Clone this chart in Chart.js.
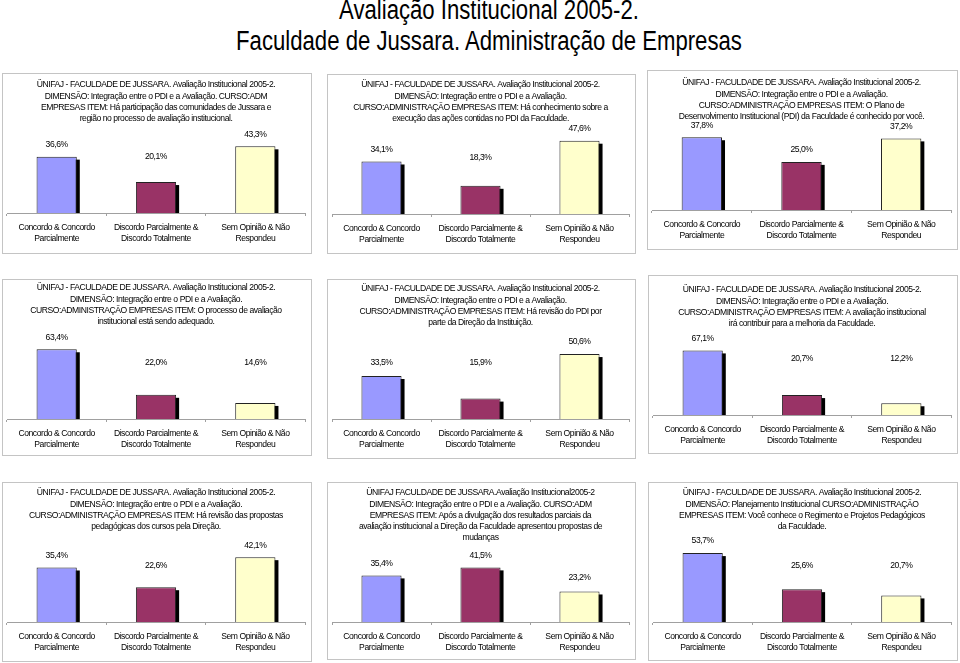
<!DOCTYPE html>
<html>
<head>
<meta charset="utf-8">
<script src="https://cdn.jsdelivr.net/npm/chart.js@4.4.1/dist/chart.umd.min.js"></script>
<style>
    html, body { margin: 0; padding: 0; background: #fff; }
    body {
        width: 960px; height: 663px; position: relative; overflow: hidden;
        font-family: "Liberation Sans", Arial, sans-serif;
    }
    #title {
        position: absolute; left: 9px; top: -5px; width: 960px;
        text-align: center; font-size: 27px; line-height: 31px; color: #000;
        transform: scaleX(0.82); transform-origin: 480px 0;
    }
    .panel { position: absolute; border: 1px solid #c4c4c4; box-sizing: border-box; background: #fff; }
    .panel canvas { display: block; }
</style>
</head>
<body>
<div id="title">Avaliação Institucional 2005-2.<br>Faculdade de Jussara. Administração de Empresas</div>
<script>
    "use strict";

    // ---- data ----
    var categories = [
        ["Concordo & Concordo", "Parcialmente"],
        ["Discordo Parcialmente &", "Discordo Totalmente"],
        ["Sem Opinião & Não", "Respondeu"]
    ];
    var barColors = ["#9999ff", "#993366", "#ffffcc"];

    var head = "ÜNIFAJ - FACULDADE DE JUSSARA. Avaliação Institucional 2005-2.";
    var dimPdi = "DIMENSÃO: Integração entre o PDI e a Avaliação.";

    var title1 = [head, "DIMENSÃO: Integração entre o PDI e a Avaliação. CURSO:ADM",
        "EMPRESAS ITEM: Há participação das comunidades de Jussara e",
        "região no processo de avaliação institucional."];
    var title2 = [head, dimPdi,
        "CURSO:ADMINISTRAÇÃO EMPRESAS ITEM: Há conhecimento sobre a",
        "execução das ações contidas no PDI da Faculdade."];
    var title3 = [head, dimPdi,
        "CURSO:ADMINISTRAÇÃO EMPRESAS ITEM: O Plano de",
        "Desenvolvimento Institucional (PDI) da Faculdade é conhecido por você."];
    var title4 = [head, dimPdi,
        "CURSO:ADMINISTRAÇÃO EMPRESAS ITEM: O processo de avaliação",
        "institucional está sendo adequado."];
    var title5 = [head, dimPdi,
        "CURSO:ADMINISTRAÇÃO EMPRESAS ITEM: Há revisão do PDI por",
        "parte da Direção da Instituição."];
    var title6 = [head, dimPdi,
        "CURSO:ADMINISTRAÇÃO EMPRESAS ITEM: A avaliação institucional",
        "irá contribuir para a melhoria da Faculdade."];
    var title7 = [head, dimPdi,
        "CURSO:ADMINISTRAÇÃO EMPRESAS ITEM: Há revisão das propostas",
        "pedagógicas dos cursos pela Direção."];
    var title8 = ["ÜNIFAJ FACULDADE DE JUSSARA.Avaliação Institucional2005-2",
        "DIMENSÃO: Integração entre o PDI e a Avaliação. CURSO:ADM",
        "EMPRESAS ITEM: Após a divulgação dos resultados parciais da",
        "avaliação institucional a Direção da Faculdade apresentou propostas de",
        "mudanças"];
    var title9 = [head, "DIMENSÃO: Planejamento Institucional CURSO:ADMINISTRAÇÃO",
        "EMPRESAS ITEM: Você conhece o Regimento e Projetos Pedagógicos",
        "da Faculdade."];

    var values1 = [36.6, 20.1, 43.3];
    var values2 = [34.1, 18.3, 47.6];
    var values3 = [37.8, 25.0, 37.2];
    var values4 = [63.4, 22.0, 14.6];
    var values5 = [33.5, 15.9, 50.6];
    var values6 = [67.1, 20.7, 12.2];
    var values7 = [35.4, 22.6, 42.1];
    var values8 = [35.4, 41.5, 23.2];
    var values9 = [53.7, 25.6, 20.7];

    // hidden value axis maximum of each chart (%)
    var axisMax = [50, 50, 40, 70, 60, 80, 50, 50, 60];

    var titles = [title1, title2, title3, title4, title5, title6, title7, title8, title9];
    var values = [values1, values2, values3, values4, values5, values6, values7, values8, values9];

    // ---- layout: left, top, width, height, title first-line offset ----
    var panels = [
        [2, 73, 310, 181, 11], [327, 74, 309, 180, 10], [647, 70, 311, 180, 12],
        [2, 279, 310, 177, 8], [327, 279, 309, 180, 9], [648, 275, 310, 179, 14],
        [2, 482, 310, 180, 10], [327, 482, 309, 178, 10], [648, 482, 310, 179, 10]
    ];
    var AXIS_Y = 139;     // axis line, from the canvas top
    var PLOT_TOP = 62;    // top of value axis for a 4-line title
    var TITLE_LH = 11.2;
    var FONT = '"Liberation Sans", Arial, sans-serif';
    var FONT_SIZE = 8.6;
    var TIGHT = "-0.45px"; // squeeze Arial towards the narrow face of the original

    Chart.defaults.font.family = FONT;
    Chart.defaults.color = "#000";

    var tightText = {
        id: "tightText",
        beforeLayout: function (chart) { chart.ctx.letterSpacing = TIGHT; },
        beforeDraw: function (chart) { chart.ctx.letterSpacing = TIGHT; }
    };

    // black drop shadow at the right of each bar
    var barShadow = {
        id: "barShadow",
        beforeDatasetsDraw: function (chart) {
            var ctx = chart.ctx;
            ctx.save();
            ctx.fillStyle = "#000";
            chart.getDatasetMeta(0).data.forEach(function (bar) {
                var p = bar.getProps(["x", "y", "base", "width"], true);
                ctx.fillRect(p.x - p.width / 2 + 3, p.y + 3, p.width, p.base - p.y - 3);
            });
            ctx.restore();
        }
    };

    // "36,6%" labels above bars
    var valueLabels = {
        id: "valueLabels",
        afterDatasetsDraw: function (chart) {
            var ctx = chart.ctx, area = chart.chartArea;
            var data = chart.data.datasets[0].data;
            ctx.save();
            ctx.font = FONT_SIZE + "px " + FONT;
            ctx.fillStyle = "#000";
            ctx.textAlign = "center";
            ctx.textBaseline = "middle";
            chart.getDatasetMeta(0).data.forEach(function (bar, i) {
                var y = Math.min(bar.y - 12, area.top + 21);
                ctx.fillText(data[i].toFixed(1).replace(".", ",") + "%", bar.x, y);
            });
            ctx.restore();
        }
    };

    panels.forEach(function (pn, i) {
        var div = document.createElement("div");
        div.className = "panel";
        div.style.left = pn[0] + "px";
        div.style.top = pn[1] + "px";
        div.style.width = pn[2] + "px";
        div.style.height = pn[3] + "px";
        var canvas = document.createElement("canvas");
        var w = pn[2] - 2, h = pn[3] - 2;
        canvas.width = w;
        canvas.height = h;
        div.appendChild(canvas);
        document.body.appendChild(div);

        var padTop = pn[4] - TITLE_LH / 2;
        var padBottom = PLOT_TOP - padTop - 4 * TITLE_LH;

        new Chart(canvas, {
            type: "bar",
            data: {
                labels: categories,
                datasets: [{
                    data: values[i],
                    backgroundColor: barColors,
                    borderColor: "#222",
                    borderWidth: 1,
                    barPercentage: 0.405,
                    categoryPercentage: 1
                }]
            },
            options: {
                animation: false,
                responsive: false,
                devicePixelRatio: 1,
                layout: { padding: { left: 4, right: 6, top: 0, bottom: h - AXIS_Y - 30 } },
                plugins: {
                    legend: { display: false },
                    tooltip: { enabled: false },
                    title: {
                        display: true,
                        text: titles[i],
                        color: "#000",
                        font: { size: FONT_SIZE, weight: "normal", lineHeight: TITLE_LH / FONT_SIZE },
                        padding: { top: padTop, bottom: padBottom }
                    }
                },
                scales: {
                    x: {
                        afterFit: function (scale) { scale.height = 30; },
                        border: { display: true, color: "#a0a0a0", width: 1 },
                        grid: {
                            display: true, offset: true, drawOnChartArea: false,
                            drawTicks: true, tickLength: 3, color: "#a0a0a0"
                        },
                        ticks: {
                            color: "#000", padding: 6, maxRotation: 0, autoSkip: false,
                            font: { size: FONT_SIZE, lineHeight: 1.3 }
                        }
                    },
                    y: { display: false, min: 0, max: axisMax[i] }
                }
            },
            plugins: [tightText, barShadow, valueLabels]
        });
    });
</script>
</body>
</html>
